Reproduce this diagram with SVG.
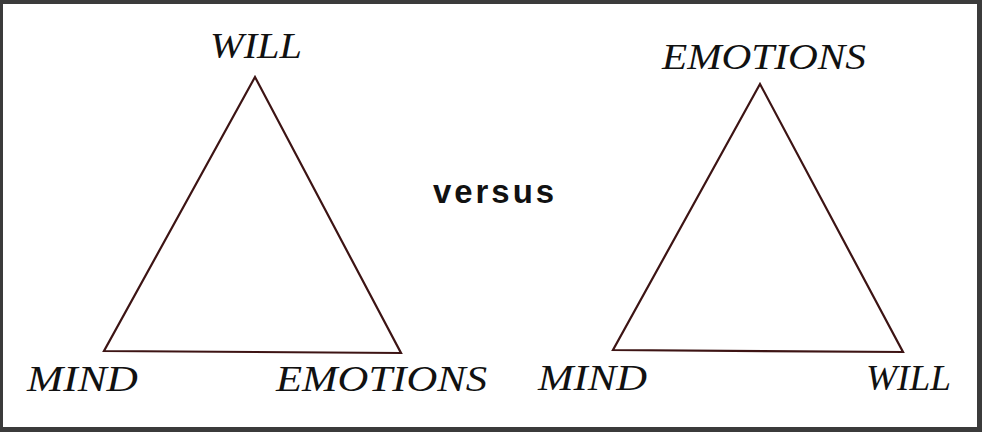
<svg xmlns="http://www.w3.org/2000/svg" width="982" height="432" viewBox="0 0 982 432">
<style>
.lbl{font-family:"Liberation Serif","DejaVu Serif",serif;font-style:italic;font-size:36px;fill:#111;}
.tri{fill:none;stroke:#3d1414;stroke-width:2.2;stroke-linejoin:miter;}
.vs{font-family:"Liberation Sans",Arial,sans-serif;font-weight:bold;font-size:33px;fill:#111;letter-spacing:3px;}
</style>
<rect x="0" y="0" width="982" height="432" fill="#3b3b3b"/>
<rect x="3" y="4" width="974" height="423" fill="#ffffff"/>
<g id="connectors">
<polygon class="tri" points="255,77 104,351 401,353"/>
<polygon class="tri" points="760,84 613,350 903,352"/>
</g>
<g id="left-will"><text class="lbl" x="210" y="58" textLength="92" lengthAdjust="spacingAndGlyphs">WILL</text></g>
<g id="left-mind"><text class="lbl" x="27" y="391" textLength="111" lengthAdjust="spacingAndGlyphs">MIND</text></g>
<g id="left-emotions"><text class="lbl" x="276" y="391" textLength="211" lengthAdjust="spacingAndGlyphs">EMOTIONS</text></g>
<g id="versus"><text class="vs" x="433" y="203" textLength="124" lengthAdjust="spacingAndGlyphs">versus</text></g>
<g id="right-emotions"><text class="lbl" x="662" y="69" textLength="204" lengthAdjust="spacingAndGlyphs">EMOTIONS</text></g>
<g id="right-mind"><text class="lbl" x="538" y="390" textLength="109" lengthAdjust="spacingAndGlyphs">MIND</text></g>
<g id="right-will"><text class="lbl" x="866" y="390" textLength="85" lengthAdjust="spacingAndGlyphs">WILL</text></g>
</svg>
